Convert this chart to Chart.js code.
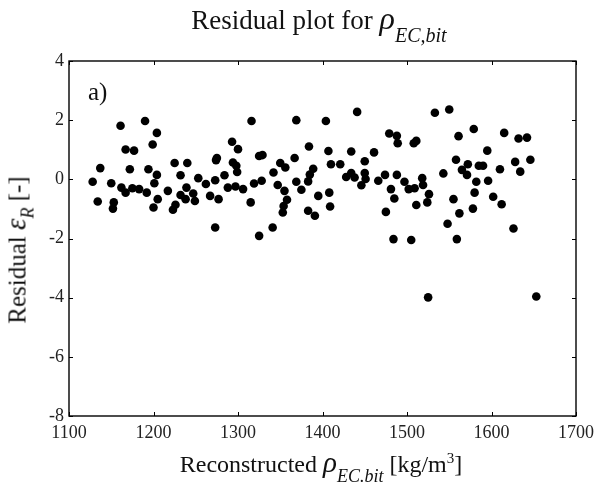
<!DOCTYPE html>
<html>
<head>
<meta charset="utf-8">
<script src="https://cdn.jsdelivr.net/npm/chart.js@4/dist/chart.umd.min.js"></script>
<style>
  html, body { margin: 0; padding: 0; background: #fff; }
  #wrap { position: relative; width: 595px; height: 484px; overflow: hidden; font-family: "Liberation Serif", "DejaVu Serif", serif; color: #111; }
  #c { position: absolute; left: 0; top: 0; }
  .lbl { position: absolute; white-space: nowrap; line-height: 1; }
  .rho { font-style: italic; }
  .sub { font-style: italic; position: relative; }
</style>
</head>
<body>
<div id="wrap">
  <canvas id="c" width="595" height="484"></canvas>
  <div class="lbl" id="title" style="left:0;width:638px;text-align:center;top:2px;font-size:27px;">Residual plot for <span class="rho" style="font-size:32px;">ρ</span><span class="sub" style="font-size:20px;top:13px;">EC,bit</span></div>
  <div class="lbl" id="xtitle" style="left:0;width:642px;text-align:center;top:448px;font-size:24px;">Reconstructed <span class="rho" style="font-size:29px;">ρ</span><span class="sub" style="font-size:18px;top:10px;">EC.bit</span> [kg/m<sup style="font-size:15px;">3</sup>]</div>
  <div class="lbl" id="ytitle" style="left:16px;top:250px;font-size:25px;transform:translate(-50%,-50%) rotate(-90deg);">Residual <span class="rho" style="font-size:29px;">ε</span><span class="sub" style="font-size:18px;top:8px;">R</span> [-]</div>
</div>
<script>
// Reconstructed density rho_EC,bit [kg/m3]
const xValues = [
  1128,1137,1134,1150,1153,1152,1161,1162,1167,1177,1172,1167,1175,1183,1190,1204,1199,1194,1192,1204,
  1201,1205,1200,1217,1225,1240,1232,1232,1239,1238,1226,1223,1247,1249,1253,1262,1267,1273,1277,1275,
  1274,1273,1284,1288,1293,1300,1294,1298,1299,1297,1306,1316,1315,1319,1325,1329,1328,1325,1342,1341,
  1347,1350,1356,1355,1358,1354,1353,1369,1367,1369,1375,1384,1383,1385,1389,1383,1391,1395,1404,1407,
  1410,1408,1409,
  1421,1428,1434,1438,1434,1441,1450,1450,1451,1446,1461,1466,1474,1479,1488,1489,1488,1481,1485,1475,
  1484,1505,1497,1502,1509,1508,1511,1518,1519,1511,1526,1524,1533,1550,1543,1548,1525,1555,1559,1562,
  1561,1558,1565,1572,1571,1579,1585,1590,1582,1580,1578,1595,1596,1602,1610,1612,1615,1628,1634,1626,
  1632,1642,1646,1653
];
// Residual epsilon_R [-]
const yValues = [
  -0.08,0.38,-0.75,-0.13,-0.78,-0.99,1.81,-0.28,1.01,0.97,0.34,-0.45,-0.30,-0.33,1.97,1.57,1.18,0.34,-0.45,0.15,
  -0.13,-0.67,-0.95,-0.39,0.55,0.55,0.14,-0.53,-0.28,-0.67,-0.86,-1.03,-0.48,-0.73,0.04,-0.16,-0.56,-0.03,-0.67,0.72,
  0.65,-1.63,0.14,-0.28,1.27,1.02,0.57,0.46,0.25,-0.24,-0.33,1.97,-0.78,-0.14,0.79,0.82,-0.05,-1.91,0.23,-1.63,
  -0.19,0.55,0.40,-0.39,-0.69,-0.90,-1.12,2.00,0.72,-0.08,-0.35,1.11,-0.07,0.16,0.36,-1.06,-1.23,-0.56,1.97,0.96,
  0.51,-0.45,-0.92,
  0.51,0.08,0.21,0.06,0.94,2.28,0.61,0.21,0.01,-0.20,0.91,-0.05,0.15,1.55,1.47,1.22,0.15,-0.33,-0.65,-1.10,
  -2.02,-2.05,-0.08,-0.33,-0.30,1.22,1.30,0.04,-0.19,-0.87,-0.50,-0.78,2.25,2.36,0.20,-1.50,-3.99,-0.67,-2.02,-1.15,
  1.46,0.66,0.32,0.51,0.15,1.70,0.46,0.46,-0.08,-0.45,-0.99,0.97,-0.05,-0.59,0.34,-0.84,1.57,0.59,0.26,-1.66,
  1.38,1.41,0.66,-3.96
];
const xTicks = [1100, 1200, 1300, 1400, 1500, 1600, 1700];
const yTicks = [-8, -6, -4, -2, 0, 2, 4];
const panelLabel = 'a)';

const points = xValues.map((x, i) => ({ x: x, y: yValues[i] }));

const FONT = '"Liberation Serif", "DejaVu Serif", serif';

const boxPlugin = {
  id: 'boxPlugin',
  afterDraw(chart) {
    const ctx = chart.ctx;
    const a = chart.chartArea;
    const xs = chart.scales.x, ys = chart.scales.y;
    ctx.save();
    ctx.strokeStyle = '#000';
    ctx.lineWidth = 1.4;
    ctx.strokeRect(a.left, a.top, a.right - a.left, a.bottom - a.top);
    ctx.lineWidth = 1;
    const tl = 4;
    ctx.beginPath();
    xTicks.forEach(v => {
      const px = Math.round(xs.getPixelForValue(v)) + 0.5;
      ctx.moveTo(px, a.bottom); ctx.lineTo(px, a.bottom - tl);
      ctx.moveTo(px, a.top); ctx.lineTo(px, a.top + tl);
    });
    yTicks.forEach(v => {
      const py = Math.round(ys.getPixelForValue(v)) + 0.5;
      ctx.moveTo(a.left, py); ctx.lineTo(a.left + tl, py);
      ctx.moveTo(a.right, py); ctx.lineTo(a.right - tl, py);
    });
    ctx.stroke();
    ctx.fillStyle = '#111';
    ctx.font = '25px ' + FONT;
    ctx.textBaseline = 'alphabetic';
    ctx.textAlign = 'left';
    ctx.fillText(panelLabel, a.left + 19, a.top + 39);
    ctx.restore();
  }
};

new Chart(document.getElementById('c'), {
  type: 'scatter',
  data: {
    datasets: [{
      data: points,
      backgroundColor: '#000',
      borderWidth: 0,
      pointRadius: 4.3,
      pointHoverRadius: 4.3
    }]
  },
  options: {
    responsive: false,
    animation: false,
    events: [],
    layout: { padding: { top: 61, right: 19, left: 0, bottom: 0 } },
    plugins: { legend: { display: false }, tooltip: { enabled: false } },
    scales: {
      x: {
        type: 'linear',
        min: 1100, max: 1700,
        afterBuildTicks: s => { s.ticks = xTicks.map(v => ({ value: v })); },
        afterFit: s => { s.height = 68; s.paddingLeft = 0; s.paddingRight = 0; },
        grid: { display: false, drawTicks: false },
        border: { display: false },
        ticks: {
          callback: v => String(v),
          color: '#222',
          padding: 6,
          maxRotation: 0,
          font: { family: FONT, size: 18 }
        }
      },
      y: {
        type: 'linear',
        min: -8, max: 4,
        afterBuildTicks: s => { s.ticks = yTicks.map(v => ({ value: v })); },
        afterFit: s => { s.width = 69; s.paddingTop = 0; s.paddingBottom = 0; },
        grid: { display: false, drawTicks: false },
        border: { display: false },
        ticks: {
          callback: v => String(v),
          color: '#222',
          padding: 5,
          font: { family: FONT, size: 18 }
        }
      }
    }
  },
  plugins: [boxPlugin]
});
</script>
</body>
</html>
